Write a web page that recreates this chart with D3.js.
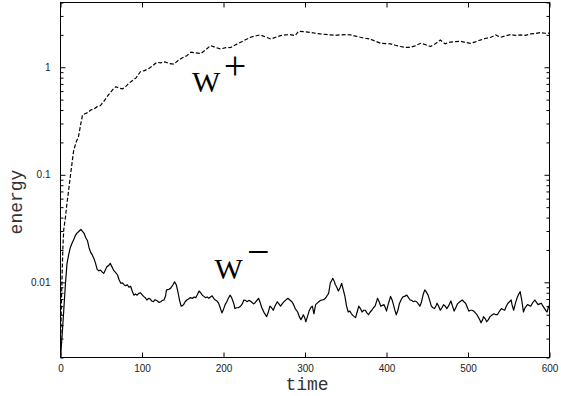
<!DOCTYPE html>
<html>
<head>
<meta charset="utf-8">
<script src="https://cdn.jsdelivr.net/npm/d3@7"></script>
<style>
  html, body { margin: 0; padding: 0; background: #fff; }
  svg { display: block; }
</style>
</head>
<body>
<svg id="chart" width="561" height="396"></svg>
<script>
// ---------- data ----------
const xTicks = [0, 100, 200, 300, 400, 500, 600];
const yMajorTicks = [0.01, 0.1, 1];
const yMinorTicks = [0.002,0.003,0.004,0.005,0.006,0.007,0.008,0.009,
                     0.02,0.03,0.04,0.05,0.06,0.07,0.08,0.09,
                     0.2,0.3,0.4,0.5,0.6,0.7,0.8,0.9,
                     2,3,4];
const xDomain = [0, 600];
const yDomain = [0.002, 4];

// W+ energy (dashed)
const wPlus = [
 [0,0.002],[1,0.006],[2,0.012],[3,0.022],[4,0.031],[6,0.04],[8,0.055],[10,0.072],
 [13,0.11],[16,0.165],[19,0.2],[22,0.225],[25,0.3],[27,0.36],[30,0.37],[34,0.38],
 [37,0.40],[41,0.41],[45,0.43],[49,0.44],[53,0.48],[57,0.53],[61,0.58],[65,0.63],
 [68,0.66],[72,0.64],[76,0.63],[80,0.66],[84,0.71],[88,0.75],[93,0.80],[98,0.91],
 [103,0.93],[108,0.97],[113,1.03],[118,1.11],[123,1.10],[128,1.12],[134,1.08],[139,1.07],
 [144,1.15],[149,1.22],[155,1.28],[160,1.38],[166,1.36],[172,1.34],[178,1.45],[184,1.59],
 [190,1.53],[196,1.48],[203,1.52],[209,1.53],[215,1.62],[221,1.71],[227,1.80],[233,1.90],
 [239,1.95],[245,2.0],[251,1.92],[258,1.83],[264,1.90],[270,1.97],[276,2.0],[282,2.01],
 [288,1.97],[292,2.16],[298,2.14],[307,2.11],[313,2.07],[319,2.04],[325,2.02],[331,2.0],
 [337,1.98],[343,2.0],[350,2.01],[356,2.0],[362,1.95],[368,1.9],[374,1.86],[380,1.83],
 [386,1.75],[393,1.67],[399,1.66],[405,1.65],[411,1.6],[417,1.56],[423,1.53],[429,1.53],
 [435,1.58],[442,1.67],[448,1.62],[454,1.56],[460,1.65],[466,1.79],[472,1.65],[478,1.71],
 [485,1.73],[491,1.74],[497,1.70],[503,1.67],[509,1.72],[515,1.79],[521,1.85],[528,1.90],
 [534,2.0],[540,1.9],[546,1.96],[552,2.01],[558,1.98],[564,2.0],[570,1.98],[577,2.04],
 [583,2.06],[589,2.1],[595,2.07],[600,2.08]
];

// W- energy (solid)
const wMinus = [
 [0,0.002],[2,0.0032],[4,0.0055],[6,0.0095],[8,0.015],[10,0.018],[12,0.021],[14,0.023],
 [16,0.0247],[18,0.027],[20,0.0285],[23,0.030],[25,0.031],[27,0.0298],[29,0.0285],[31,0.026],
 [33,0.0245],[35,0.021],[37,0.019],[39,0.018],[41,0.0167],[43,0.015],[45,0.0132],[47,0.0128],
 [49,0.013],[51,0.0125],[53,0.0121],[55,0.013],[57,0.014],[59,0.0143],[61,0.015],[63,0.014],
 [65,0.013],[67,0.0125],[70,0.0117],[72,0.0105],[74,0.0098],[76,0.0099],[78,0.0095],[80,0.0093],
 [82,0.0095],[84,0.009],[86,0.0092],[88,0.0083],[90,0.0076],[92,0.0078],[94,0.0076],[96,0.0079],
 [98,0.008],[100,0.0077],[102,0.0074],[104,0.0072],[106,0.00685],[108,0.0071],[110,0.007],[112,0.0067],
 [114,0.0066],[116,0.0069],[119,0.0067],[121,0.0065],[123,0.0066],[125,0.0068],[127,0.00685],[129,0.0075],
 [130,0.0085],[133,0.0086],[135,0.0088],[138,0.0095],[140,0.0101],[142,0.0095],[144,0.0082],[146,0.00685],
 [148,0.006],[150,0.0061],[151,0.0062],[153,0.0066],[155,0.00685],[157,0.0070],[159,0.0072],[162,0.0071],
 [164,0.0073],[166,0.0072],[168,0.0077],[170,0.0083],[172,0.008],[174,0.0076],[176,0.0074],[178,0.0072],
 [180,0.0073],[182,0.0071],[184,0.0073],[186,0.0075],[188,0.0071],[190,0.00685],[192,0.0067],[194,0.0064],
 [196,0.0058],[198,0.0052],[200,0.0056],[202,0.0062],[204,0.0066],[206,0.0071],[208,0.0076],[210,0.0072],
 [211,0.00685],[213,0.0062],[214,0.0057],[216,0.0058],[218,0.0058],[221,0.006],[223,0.0063],[225,0.00685],
 [227,0.0068],[229,0.0066],[231,0.0068],[233,0.0067],[235,0.0065],[237,0.0063],[239,0.0065],[241,0.0068],
 [243,0.0071],[245,0.0065],[247,0.0058],[250,0.0052],[253,0.0048],[255,0.0053],[257,0.006],[259,0.0058],
 [261,0.0055],[263,0.006],[266,0.0066],[268,0.0063],[270,0.006],[272,0.0063],[274,0.0066],[276,0.0068],
 [279,0.0071],[281,0.0069],[284,0.0066],[286,0.0062],[288,0.0057],[291,0.0053],[293,0.0048],[295,0.0045],
 [297,0.0048],[298,0.005],[300,0.0046],[301,0.0043],[303,0.0048],[305,0.0054],[307,0.0058],[309,0.006],
 [311,0.0051],[313,0.0062],[315,0.0064],[317,0.0066],[319,0.0068],[321,0.00685],[323,0.0069],[325,0.0071],
 [327,0.0075],[329,0.0079],[331,0.0098],[333,0.0105],[334,0.0109],[336,0.0102],[337,0.0096],[339,0.009],
 [341,0.0083],[343,0.0089],[345,0.0098],[347,0.0085],[349,0.0074],[351,0.006],[353,0.0053],[355,0.0054],
 [357,0.0051],[359,0.0049],[362,0.0047],[364,0.0053],[366,0.006],[368,0.0057],[370,0.0053],[372,0.0055],
 [374,0.0055],[376,0.0052],[378,0.005],[380,0.0053],[382,0.0055],[384,0.0058],[386,0.006],[389,0.0071],
 [391,0.0066],[393,0.006],[395,0.0061],[397,0.0062],[399,0.0057],[400,0.0054],[402,0.0062],[405,0.0074],
 [407,0.0068],[408,0.0064],[410,0.0056],[412,0.005],[414,0.0055],[416,0.0064],[418,0.0069],[420,0.0073],
 [422,0.0074],[425,0.0076],[427,0.0072],[429,0.00685],[431,0.0068],[433,0.0066],[435,0.0067],[437,0.0066],
 [439,0.0063],[441,0.006],[443,0.0066],[445,0.0077],[447,0.0085],[449,0.0081],[451,0.0076],[453,0.0068],
 [455,0.006],[457,0.0058],[459,0.0057],[461,0.0061],[462,0.0064],[464,0.006],[466,0.0055],[468,0.0058],
 [470,0.0062],[472,0.006],[474,0.0057],[476,0.006],[479,0.0067],[481,0.006],[483,0.0054],[485,0.0058],
 [487,0.0063],[490,0.0066],[493,0.00685],[495,0.0066],[497,0.0064],[499,0.0059],[501,0.0054],[503,0.0055],
 [505,0.0055],[507,0.0054],[509,0.0052],[511,0.005],[513,0.0047],[515,0.0044],[516,0.0042],[518,0.0045],
 [519,0.0048],[521,0.0046],[523,0.0043],[525,0.0045],[527,0.0048],[530,0.005],[532,0.0051],[534,0.005],
 [536,0.005],[538,0.0053],[541,0.0057],[543,0.0056],[545,0.0055],[547,0.006],[549,0.0064],[551,0.0066],
 [553,0.00685],[554,0.0062],[556,0.0055],[558,0.0063],[560,0.0071],[562,0.0077],[564,0.0082],[566,0.0068],
 [568,0.0053],[570,0.0058],[573,0.0062],[575,0.0061],[577,0.006],[579,0.0064],[582,0.00685],[584,0.0065],
 [586,0.0062],[588,0.0063],[590,0.0064],[592,0.006],[594,0.0057],[596,0.0054],[597,0.0053],[599,0.006],
 [600,0.0058]
];

const labelPlus = {base: "W", sup: "+"};
const labelMinus = {base: "W", sup: "\u2212"};

// ---------- layout ----------
const svg = d3.select("#chart");
const L = 60.5, R = 549.5, T = 2.5, B = 357.5;

const x = d3.scaleLinear().domain(xDomain).range([L, R]);
const y = d3.scaleLog().domain(yDomain).range([B, T]);

const tickFont = "Liberation Sans, Arial, Helvetica, sans-serif";
const monoFont = "Liberation Mono, Courier New, DejaVu Sans Mono, monospace";
const serifFont = "Liberation Serif, Times New Roman, serif";

// clip
svg.append("defs").append("clipPath").attr("id", "plotclip")
  .append("rect").attr("x", L).attr("y", T).attr("width", R - L).attr("height", B - T);

function styleAxis(g) {
  g.select(".domain").remove();
  g.selectAll(".tick line").attr("stroke", "#000").attr("stroke-width", 1);
  g.selectAll(".tick text").attr("fill", "#222")
    .style("font-family", tickFont).style("font-size", "10px");
}

// bottom axis with labels
svg.append("g").attr("transform", `translate(0,${B})`)
  .call(d3.axisBottom(x).tickValues(xTicks).tickSizeInner(-5).tickSizeOuter(0).tickPadding(7)
    .tickFormat(d3.format("d")))
  .call(styleAxis);

// top axis (mirror, no labels)
svg.append("g").attr("transform", `translate(0,${T})`)
  .call(d3.axisTop(x).tickValues(xTicks).tickSizeInner(-5).tickSizeOuter(0).tickFormat(""))
  .call(styleAxis);

// left major
svg.append("g").attr("transform", `translate(${L},0)`)
  .call(d3.axisLeft(y).tickValues(yMajorTicks).tickSizeInner(-5).tickSizeOuter(0).tickPadding(10)
    .tickFormat(d => d >= 1 ? "1" : String(d)))
  .call(styleAxis);
// left minor
svg.append("g").attr("transform", `translate(${L},0)`)
  .call(d3.axisLeft(y).tickValues(yMinorTicks).tickSizeInner(-3).tickSizeOuter(0).tickFormat(""))
  .call(styleAxis);
// right major/minor
svg.append("g").attr("transform", `translate(${R},0)`)
  .call(d3.axisRight(y).tickValues(yMajorTicks).tickSizeInner(-5).tickSizeOuter(0).tickFormat(""))
  .call(styleAxis);
svg.append("g").attr("transform", `translate(${R},0)`)
  .call(d3.axisRight(y).tickValues(yMinorTicks).tickSizeInner(-3).tickSizeOuter(0).tickFormat(""))
  .call(styleAxis);

// frame
svg.append("rect").attr("x", L).attr("y", T).attr("width", R - L).attr("height", B - T)
  .attr("fill", "none").attr("stroke", "#000").attr("stroke-width", 1);

// lines
const line = d3.line().x(d => x(d[0])).y(d => y(d[1]));
const plot = svg.append("g").attr("clip-path", "url(#plotclip)");
plot.append("path").datum(wPlus)
  .attr("d", line).attr("fill", "none").attr("stroke", "#000")
  .attr("stroke-width", 1.2).attr("stroke-dasharray", "4,2");
plot.append("path").datum(wMinus)
  .attr("d", line).attr("fill", "none").attr("stroke", "#000")
  .attr("stroke-width", 1.2).attr("stroke-linejoin", "round");

// axis titles
svg.append("text").attr("x", (L + R) / 2 + 2).attr("y", 390)
  .attr("text-anchor", "middle").style("font-family", monoFont).style("font-size", "18px")
  .attr("fill", "#333").text("time");
svg.append("text").attr("transform", "translate(21.5,202) rotate(-90)")
  .attr("text-anchor", "middle").style("font-family", monoFont).style("font-size", "18px")
  .attr("fill", "#333").text("energy");

// curve labels
function curveLabel(lbl, wx, wy, sx, sy) {
  svg.append("text").attr("x", wx).attr("y", wy)
    .style("font-family", serifFont).style("font-size", "30px").attr("fill", "#000").text(lbl.base);
  svg.append("text").attr("x", sx).attr("y", sy).attr("text-anchor", "middle")
    .style("font-family", serifFont).style("font-size", "40px").attr("fill", "#000").text(lbl.sup);
}
curveLabel(labelPlus, 192, 91.5, 235, 79);
curveLabel(labelMinus, 214.5, 278.5, 258.3, 264.5);
</script>
</body>
</html>
